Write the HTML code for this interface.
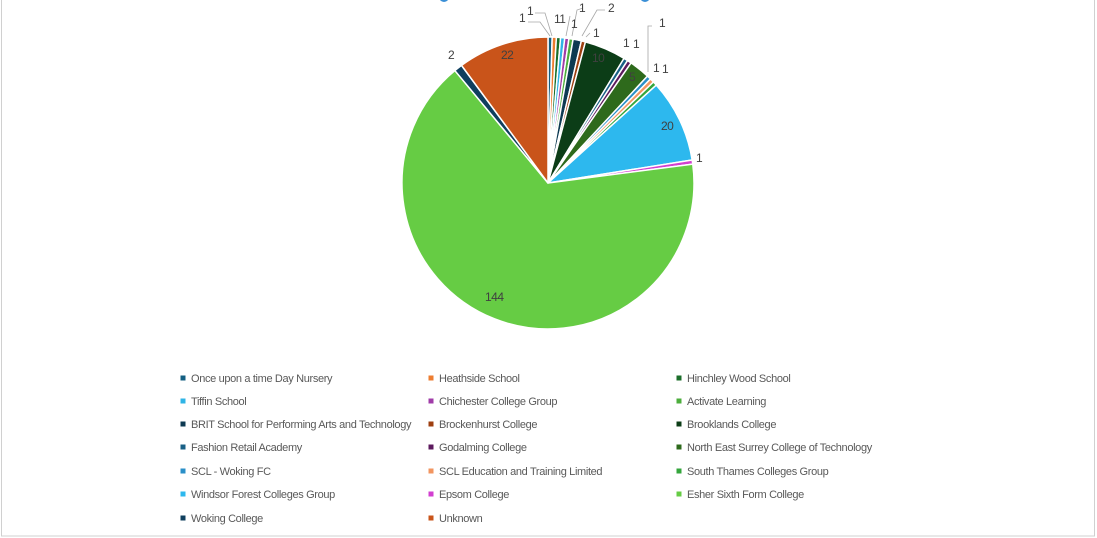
<!DOCTYPE html>
<html><head><meta charset="utf-8"><style>
body{margin:0;background:#fff;}
svg{display:block;font-family:"Liberation Sans",sans-serif;}
.lg{font-size:11px;fill:#595959;letter-spacing:-0.35px;}
.dl{font-size:12px;fill:#404040;letter-spacing:-0.5px;}
</style></head><body>
<svg id="s" width="1097" height="538" viewBox="0 0 1097 538">
<rect x="1.5" y="-2" width="1093" height="538" fill="#fff" stroke="#d0d0d0" stroke-width="1"/>
<circle cx="444" cy="-3" r="5" fill="#3a8fd6"/>
<circle cx="645" cy="-3" r="5" fill="#3a8fd6"/>
<g id="pie"></g>
<g fill="none" stroke="#a6a6a6" stroke-width="0.8">
<polyline points="528,22 540,22 550,36"/>
<polyline points="535,13 545,13 552,36"/>
<polyline points="570,16 566,36"/>
<polyline points="583,8 577,10 572,36"/>
<polyline points="605,10 597,10 582,36"/>
<polyline points="590,33 586,37"/>
<polyline points="652,26 648,26 648,72"/>
</g>
<g class="dl">
<text x="519" y="22">1</text><text x="527" y="15">1</text>
<text x="554" y="23">11</text><text x="579" y="12">1</text>
<text x="571" y="28">1</text><text x="608" y="12">2</text>
<text x="593" y="37">1</text><text x="592" y="62">10</text>
<text x="623" y="47">1</text><text x="633" y="48">1</text>
<text x="629" y="81">5</text><text x="659" y="27">1</text>
<text x="653" y="72">1</text><text x="662" y="73">1</text>
<text x="661" y="130">20</text><text x="696" y="162">1</text>
<text x="485" y="301">144</text><text x="448" y="59">2</text>
<text x="501" y="59">22</text>
</g>
<g id="leg" class="lg">
<text x="191" y="382">Once upon a time Day Nursery</text>
<text x="439" y="382">Heathside School</text>
<text x="687" y="382">Hinchley Wood School</text>
<text x="191" y="405">Tiffin School</text>
<text x="439" y="405">Chichester College Group</text>
<text x="687" y="405">Activate Learning</text>
<text x="191" y="428">BRIT School for Performing Arts and Technology</text>
<text x="439" y="428">Brockenhurst College</text>
<text x="687" y="428">Brooklands College</text>
<text x="191" y="451">Fashion Retail Academy</text>
<text x="439" y="451">Godalming College</text>
<text x="687" y="451">North East Surrey College of Technology</text>
<text x="191" y="475">SCL - Woking FC</text>
<text x="439" y="475">SCL Education and Training Limited</text>
<text x="687" y="475">South Thames Colleges Group</text>
<text x="191" y="498">Windsor Forest Colleges Group</text>
<text x="439" y="498">Epsom College</text>
<text x="687" y="498">Esher Sixth Form College</text>
<text x="191" y="522">Woking College</text>
<text x="439" y="522">Unknown</text>
</g>
<g id="sq"></g>
</svg>
<script>
var v=[1,1,1,1,1,1,2,1,10,1,1,5,1,1,1,20,1,144,2,22];
var c=["#145f82","#ed7d31","#1b6e2a","#2fb4e6","#a03ca8","#4cae3c","#0d3a52","#9e3f10","#0c3d17","#196086","#5c1a5e","#2e6a1c","#2a8fc8","#f29560","#34a63c","#2db8ee","#d23fd0","#66cc44","#0f3f5e","#c9541a"];
var T=v.reduce(function(a,b){return a+b},0),cx=548,cy=183,r=146,a=-Math.PI/2,h='';
for(var i=0;i<v.length;i++){var b=a+v[i]/T*2*Math.PI;
var x1=cx+r*Math.cos(a),y1=cy+r*Math.sin(a),x2=cx+r*Math.cos(b),y2=cy+r*Math.sin(b);
h+='<path d="M'+cx+','+cy+'L'+x1+','+y1+'A'+r+','+r+' 0 '+((b-a)>Math.PI?1:0)+' 1 '+x2+','+y2+'Z" fill="'+c[i]+'" stroke="#fff" stroke-width="1.5" stroke-linejoin="round"/>';a=b;}
document.getElementById('pie').innerHTML=h;
var s='',xs=[183,431,679],ys=[378,401,424,447,471,494,518];
for(i=0;i<20;i++){s+='<rect x="'+(xs[i%3]-2.5)+'" y="'+(ys[Math.floor(i/3)]-2.5)+'" width="5" height="5" fill="'+c[i]+'"/>';}
document.getElementById('sq').innerHTML=s;
</script>
</body></html>
